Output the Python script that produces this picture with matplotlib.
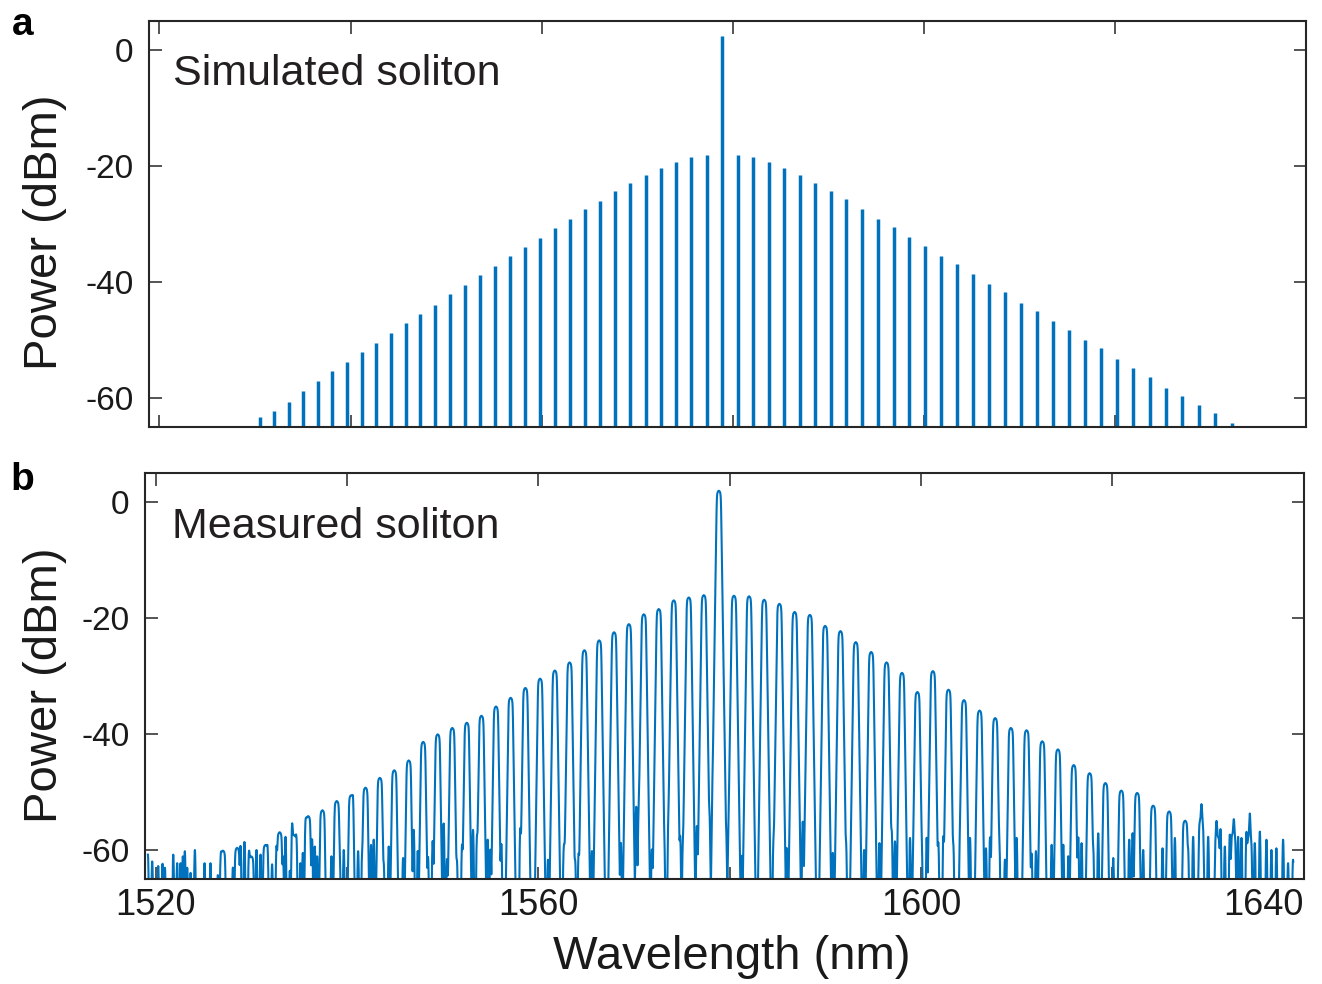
import numpy as np
import matplotlib
matplotlib.use('Agg')
import matplotlib.pyplot as plt

plt.rcParams['font.family'] = ['Liberation Sans', 'DejaVu Sans']
plt.rcParams['axes.unicode_minus'] = False

# ---- panel a: simulated comb lines (nm, dBm) ----
sim_wl = [1530.47, 1531.99, 1533.51, 1535.03, 1536.55, 1538.08, 1539.61, 1541.15,
          1542.68, 1544.22, 1545.77, 1547.31, 1548.86, 1550.42, 1551.97, 1553.53,
          1555.09, 1556.66, 1558.22, 1559.80, 1561.37, 1562.95, 1564.53, 1566.11,
          1567.70, 1569.29, 1570.88, 1572.48, 1574.08, 1575.68, 1577.29, 1578.90,
          1580.51, 1582.13, 1583.75, 1585.37, 1587.00, 1588.63, 1590.26, 1591.90,
          1593.54, 1595.18, 1596.83, 1598.48, 1600.13, 1601.79, 1603.45, 1605.11,
          1606.78, 1608.45, 1610.13, 1611.80, 1613.49, 1615.17, 1616.86, 1618.55,
          1620.25, 1621.94, 1623.65, 1625.35, 1627.06, 1628.78, 1630.49, 1632.21]
sim_power = [-63.4, -62.3, -60.8, -58.9, -57.1, -55.4, -53.8, -52.2,
             -50.5, -48.9, -47.1, -45.6, -44.0, -42.1, -40.6, -38.9,
             -37.3, -35.6, -34.0, -32.4, -30.7, -29.1, -27.5, -26.0,
             -24.4, -23.0, -21.5, -20.4, -19.4, -18.5, -18.1, 2.4,
             -18.1, -18.5, -19.4, -20.4, -21.6, -23.0, -24.4, -25.8,
             -27.5, -29.1, -30.6, -32.2, -33.9, -35.5, -37.0, -38.7,
             -40.3, -41.8, -43.6, -45.1, -46.7, -48.4, -50.1, -51.5,
             -53.3, -54.8, -56.5, -58.3, -59.7, -61.2, -62.7, -64.3]

# ---- panel b: measured comb lines (peak positions and levels) ----
meas_wl = [1527.05, 1528.53, 1530.01, 1531.49, 1532.97, 1534.46, 1535.95, 1537.44,
           1538.94, 1540.44, 1541.94, 1543.44, 1544.95, 1546.46, 1547.97, 1549.49,
           1551.01, 1552.53, 1554.06, 1555.58, 1557.11, 1558.65, 1560.19, 1561.73,
           1563.27, 1564.82, 1566.36, 1567.92, 1569.47, 1571.03, 1572.59, 1574.16,
           1575.73, 1577.30, 1578.87, 1580.45, 1582.03, 1583.61, 1585.20, 1586.79,
           1588.38, 1589.98, 1591.58, 1593.18, 1594.79, 1596.40, 1598.01, 1599.62,
           1601.24, 1602.87, 1604.49, 1606.12, 1607.75, 1609.39, 1611.03, 1612.67,
           1614.31, 1615.96, 1617.62, 1619.27, 1620.93, 1622.59, 1624.26, 1625.93,
           1627.60, 1629.28, 1630.96, 1632.64, 1634.33]
meas_power = [-60.0, -59.5, -61.0, -59.0, -56.8, -57.3, -54.0, -53.0,
              -51.4, -50.4, -49.1, -47.4, -46.1, -44.4, -41.2, -39.9,
              -38.8, -37.9, -36.7, -35.1, -33.6, -31.9, -30.3, -28.9,
              -27.5, -25.4, -23.7, -22.3, -20.9, -19.2, -18.3, -16.8,
              -16.3, -15.9, 2.1, -16.0, -16.1, -16.7, -17.4, -18.8,
              -19.3, -21.2, -22.1, -24.0, -25.7, -27.5, -29.3, -32.6,
              -29.0, -32.2, -34.0, -35.8, -37.1, -38.8, -39.2, -41.1,
              -42.5, -45.2, -46.6, -48.3, -49.6, -50.0, -52.2, -53.2,
              -54.8, -54.6, -57.5, -57.0, -57.5]

# noise-floor spikes of the OSA trace (nm, dBm)
floor_wl = [1519.20, 1519.65, 1520.28, 1520.73, 1520.98, 1521.85, 1522.26, 1522.61,
            1522.85, 1523.06, 1523.31, 1523.66, 1524.11, 1525.12, 1525.74, 1526.51,
            1526.79, 1528.08, 1528.88, 1529.29, 1529.75, 1530.55, 1530.97, 1531.73,
            1532.18, 1532.64, 1533.33, 1533.58, 1534.03, 1534.27, 1534.73, 1535.14,
            1535.39, 1535.67, 1536.36, 1536.64, 1536.89, 1538.38, 1538.70, 1539.25,
            1539.67, 1540.64, 1541.17, 1541.58, 1542.52, 1542.80, 1543.85, 1544.37,
            1545.87, 1546.98, 1547.40, 1548.48, 1548.96, 1550.11, 1550.46, 1551.50,
            1552.03, 1553.18, 1553.59, 1554.71, 1554.99, 1556.14, 1558.12, 1561.01,
            1562.65, 1562.72, 1563.86, 1564.21, 1565.61, 1566.82, 1568.63, 1569.89,
            1570.24, 1570.48, 1571.87, 1573.16, 1573.61, 1574.83, 1575.11, 1576.22,
            1576.57, 1577.89, 1578.21, 1579.63, 1579.88, 1581.27, 1584.58, 1585.97,
            1587.19, 1587.64, 1587.89, 1590.78, 1592.17, 1594.05, 1595.65, 1596.94,
            1597.28, 1598.85, 1600.07, 1600.59, 1601.81, 1602.33, 1603.38, 1604.07,
            1605.12, 1606.79, 1607.21, 1608.18, 1608.77, 1609.64, 1609.99, 1611.21,
            1611.56, 1612.01, 1612.95, 1613.65, 1614.87, 1615.39, 1616.43, 1616.78,
            1618.00, 1618.52, 1620.09, 1621.76, 1622.11, 1623.22, 1625.24, 1626.53,
            1627.92, 1628.44, 1629.31, 1630.01, 1630.88, 1631.30, 1631.75, 1632.27,
            1632.69, 1633.14, 1633.49, 1634.01, 1634.36, 1634.88, 1635.41, 1636.10,
            1636.62, 1637.14, 1637.84, 1638.36, 1638.88]
floor_db = [-60.9, -62.1, -62.9, -62.5, -63.2, -60.9, -62.4, -62.4,
            -61.2, -60.3, -63.2, -64.1, -60.1, -62.4, -62.4, -64.5,
            -63.8, -63.2, -59.5, -58.7, -61.8, -60.1, -60.9, -64.1,
            -62.6, -59.8, -61.5, -57.8, -63.8, -58.6, -59.2, -62.4,
            -60.6, -56.0, -58.3, -59.5, -61.2, -61.2, -63.8, -62.9,
            -60.1, -58.6, -60.3, -62.4, -59.2, -58.3, -63.2, -59.5,
            -61.5, -56.6, -60.3, -61.5, -58.6, -55.5, -61.8, -62.6,
            -59.5, -56.6, -58.3, -58.3, -60.1, -59.2, -56.6, -61.8,
            -61.5, -61.5, -62.6, -61.2, -60.3, -63.2, -58.9, -57.8,
            -52.6, -55.7, -60.1, -60.1, -56.0, -58.0, -60.6, -61.8,
            -56.0, -54.9, -52.0, -58.0, -60.1, -61.2, -59.5, -59.8,
            -58.9, -55.2, -57.8, -60.6, -59.8, -60.1, -58.9, -57.5,
            -58.6, -58.0, -60.9, -58.0, -59.2, -58.0, -60.1, -60.9,
            -58.0, -59.8, -58.0, -59.2, -61.8, -58.3, -58.0, -60.1,
            -60.9, -60.3, -59.5, -59.2, -59.2, -61.2, -58.0, -58.9,
            -60.6, -57.2, -61.5, -58.3, -57.2, -60.1, -59.8, -58.0,
            -60.9, -57.8, -55.5, -57.8, -58.3, -56.6, -59.5, -57.5,
            -58.3, -57.8, -58.0, -57.2, -56.0, -58.9, -56.9, -58.3,
            -60.1, -59.8, -58.3, -62.4, -61.8]

blue = '#0072BD'
dark = '#262626'


def osa_trace(wl):
    """OSA-like trace: comb peaks with flat tops plus floor spikes"""
    lin = np.full_like(wl, 10 ** (-80 / 10))
    for w0, p in zip(meas_wl, meas_power):
        u = np.abs(wl - w0) - 0.22
        drop = 115 * (u + np.sqrt(u * u + 0.04 ** 2)) / 2
        lin += 10 ** ((p - drop) / 10)
    for w0, p in zip(floor_wl, floor_db):
        lin += 10 ** (p / 10) * np.exp(-(wl - w0) ** 2 / (2 * 0.05 ** 2))
    return 10 * np.log10(lin)


def style_axes(ax):
    ax.set_xlim(1518.9, 1640)
    ax.set_ylim(-65, 5)
    ax.set_xticks([1520, 1540, 1560, 1580, 1600, 1620, 1640])
    ax.set_yticks([-60, -40, -20, 0])
    ax.tick_params(direction='in', top=True, right=True, length=9, width=1.1,
                   color=dark, labelcolor='#1a1a1a')
    ax.tick_params(axis='y', labelsize=24, pad=11)
    ax.tick_params(axis='x', labelsize=26, pad=7)
    for s in ax.spines.values():
        s.set_linewidth(1.5)
        s.set_color(dark)


fig = plt.figure(figsize=(13.22, 9.84), dpi=100)
ax1 = fig.add_axes([0.1127, 0.5664, 0.8752, 0.4123])
ax2 = fig.add_axes([0.1097, 0.1070, 0.8765, 0.4126])

# panel a
ax1.vlines(sim_wl, -70, sim_power, color=blue, lw=2.5)
style_axes(ax1)
ax1.tick_params(axis='x', labelbottom=False)
ax1.text(173 / 1322, 1 - 85 / 984, 'Simulated soliton', transform=fig.transFigure,
         fontsize=31, color='#231f20', va='baseline')

# panel b
wl = np.arange(1519.2, 1638.9, 0.01)
ax2.plot(wl, osa_trace(wl), color=blue, lw=1.5)
style_axes(ax2)
ax2.set_xticklabels(['1520', '', '1560', '', '1600', '', '1640'])
ax2.get_xticklabels()[-1].set_ha('right')
ax2.text(172 / 1322, 1 - 538 / 984, 'Measured soliton', transform=fig.transFigure,
         fontsize=31, color='#231f20', va='baseline')

for yc in (1 - 232 / 984, 1 - 685 / 984):
    fig.text(45 / 1322, yc, 'Power (dBm)', rotation=90, ha='center', va='center',
             fontsize=34, color='#1a1a1a')
fig.text(732 / 1322, 1 - 957 / 984, 'Wavelength (nm)', ha='center', va='center',
         fontsize=34, color='#1a1a1a')
fig.text(12 / 1322, 1 - 35 / 984, 'a', fontsize=28, fontweight='bold', va='baseline')
fig.text(10 / 1322, 1 - 490 / 984, 'b', fontsize=28, fontweight='bold', va='baseline')

fig.savefig('out.png', dpi=100)
